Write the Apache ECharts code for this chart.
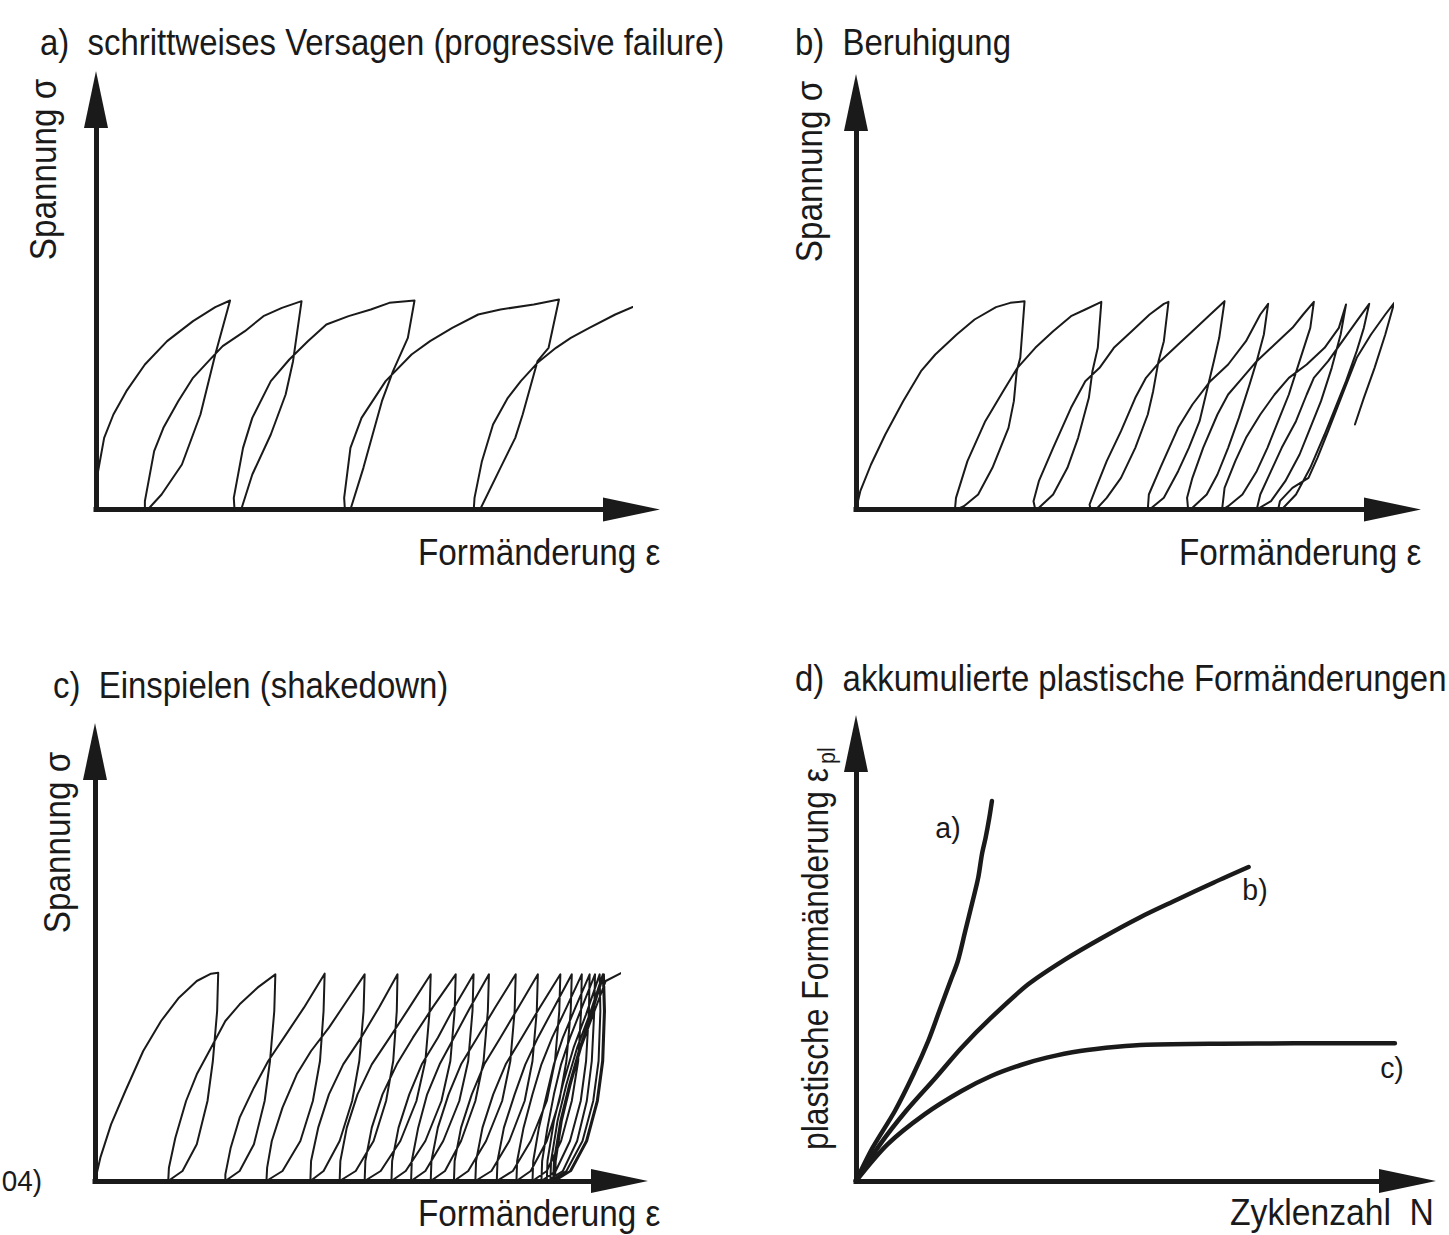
<!DOCTYPE html>
<html><head><meta charset="utf-8">
<script src="https://cdn.jsdelivr.net/npm/echarts@6/dist/echarts.min.js"></script>
<style>html,body{margin:0;padding:0;background:#fff}#c{width:1449px;height:1235px}</style>
</head><body><div id="c"></div>
<script>
// ---------- DATA (arbitrary units; [strain, stress]) ----------
const pathA = [[0,0],[4,105],[22,215],[47,285],[82,355],[132,435],[192,505],[262,565],[322,607],[362,627],
[322,465],[282,285],[232,135],[177,45],[140,0],
[132,0],[132,25],[157,175],[182,245],[222,325],[262,395],[312,455],[342,490],[402,535],[452,580],[502,605],[555,625],
[532,445],[512,345],[472,225],[422,105],[392,0],
[374,0],[372,35],[397,185],[422,275],[472,385],[522,450],[572,505],[622,555],[682,580],[742,600],[792,620],[860,627],
[842,515],[802,415],[772,325],[752,245],[722,125],[687,0],
[672,0],[670,35],[687,185],[717,275],[782,385],[852,465],[902,505],[962,545],[1032,585],[1092,600],[1182,615],[1250,630],
[1222,485],[1192,445],[1152,285],[1132,215],[1092,125],[1037,0],
[1020,0],[1022,35],[1042,145],[1072,255],[1112,335],[1147,385],[1192,440],[1242,485],[1282,515],[1332,545],[1402,585],[1482,623]];

const pathB = [[0,0],[12,55],[42,135],[82,225],[132,325],[182,415],[222,465],[282,525],[332,570],[392,607],[432,620],[472,625],
[460,455],[450,415],[442,325],[427,245],[382,125],[342,45],[302,10],[282,0],
[277,0],[280,35],[312,145],[362,265],[412,355],[452,425],[502,485],[552,535],[602,580],[642,600],[687,623],
[677,485],[662,415],[652,335],[622,215],[592,125],[552,45],[522,15],[507,0],
[502,0],[497,25],[512,85],[552,185],[602,305],[642,385],[682,425],[722,485],[772,535],[822,585],[862,617],[875,623],
[862,505],[847,445],[832,355],[817,285],[782,185],[742,95],[702,35],[672,0],
[657,0],[654,15],[672,65],[702,145],[742,235],[782,335],[812,395],[852,445],[902,495],[942,535],[992,585],[1032,625],
[1017,515],[1002,445],[982,355],[962,265],[932,185],[902,115],[862,35],[822,0],
[817,0],[820,45],[852,125],[902,245],[942,315],[992,385],[1042,435],[1092,505],[1132,585],[1154,617],
[1142,525],[1122,445],[1102,375],[1072,275],[1042,185],[1012,105],[982,45],[942,5],[932,0],
[930,0],[927,35],[942,95],[972,185],[1012,285],[1042,345],[1082,395],[1122,445],[1172,495],[1222,545],[1252,585],[1282,623],
[1272,545],[1242,445],[1212,345],[1182,265],[1152,185],[1122,115],[1082,45],[1042,10],[1027,0],
[1025,0],[1032,65],[1062,145],[1092,215],[1132,285],[1172,345],[1212,395],[1262,435],[1312,485],[1352,545],[1372,615],
[1357,525],[1332,425],[1302,325],[1272,245],[1242,165],[1202,85],[1162,25],[1122,0],
[1132,45],[1162,115],[1192,185],[1232,265],[1262,345],[1282,395],[1322,445],[1362,505],[1402,565],[1437,617],
[1422,545],[1402,475],[1372,385],[1342,305],[1312,225],[1272,125],[1232,45],[1192,0],
[1182,0],[1187,25],[1222,65],[1267,95],[1292,155],[1322,235],[1362,345],[1402,455],[1442,525],[1482,585],[1507,620],
[1482,525],[1452,425],[1422,335],[1397,255]];

const pathC = [[0,0],[15,70],[45,170],[85,270],[135,390],[185,480],[235,550],[285,600],[325,622],[345,625],
[342,510],[330,360],[315,240],[285,110],[245,30],[205,0],
[207,40],[225,130],[255,240],[285,320],[325,400],[365,480],[405,530],[455,580],[505,620],
[502,510],[490,360],[475,240],[445,110],[405,30],[365,0],
[365,20],[380,100],[405,190],[445,280],[485,360],[535,440],[585,520],[643,622],
[640,510],[630,360],[610,240],[575,120],[525,30],[480,0],
[482,40],[495,120],[525,220],[565,320],[605,390],[655,460],[705,540],[755,620],
[752,510],[740,360],[720,240],[685,120],[640,30],[603,0],
[605,60],[625,160],[655,260],[695,350],[745,430],[795,520],[847,620],
[845,510],[835,360],[815,240],[780,120],[730,30],[685,0],
[687,60],[705,160],[735,260],[775,350],[825,430],[880,520],[940,620],
[937,510],[925,360],[900,240],[855,120],[800,30],[755,0],
[757,60],[775,160],[805,260],[845,350],[890,430],[945,520],[1010,620],
[1007,510],[995,360],[970,240],[925,120],[870,30],[830,0],
[832,60],[850,160],[880,260],[915,350],[960,430],[1005,520],[1060,620],
[1057,510],[1045,360],[1020,240],[975,120],[925,30],[885,0],
[887,60],[905,160],[930,260],[965,350],[1005,430],[1050,520],[1103,620],
[1100,510],[1088,360],[1065,240],[1025,120],[980,30],[940,0],
[942,60],[960,160],[990,260],[1025,350],[1070,430],[1120,520],[1178,620],
[1175,510],[1163,360],[1140,240],[1095,120],[1045,30],[1005,0],
[1007,60],[1025,160],[1055,260],[1090,350],[1135,430],[1185,520],[1240,620],
[1237,510],[1225,360],[1203,240],[1160,120],[1110,30],[1065,0],
[1067,60],[1085,160],[1115,260],[1150,350],[1195,430],[1245,520],[1303,620],
[1300,510],[1288,360],[1265,240],[1220,120],[1170,30],[1125,0],
[1127,60],[1145,160],[1175,260],[1205,350],[1240,430],[1285,520],[1335,620],
[1332,510],[1320,360],[1300,240],[1265,120],[1220,30],[1180,0],
[1182,60],[1200,160],[1225,260],[1250,350],[1280,430],[1320,520],[1363,620],
[1361,510],[1353,360],[1335,240],[1305,120],[1265,30],[1225,0],
[1227,60],[1243,160],[1265,260],[1285,350],[1310,430],[1345,520],[1385,620],
[1383,510],[1375,360],[1360,240],[1330,120],[1290,30],[1250,0],
[1252,60],[1267,160],[1285,260],[1305,350],[1330,430],[1363,520],[1400,620],
[1398,510],[1391,360],[1377,240],[1350,120],[1310,30],[1265,0],
[1267,60],[1285,180],[1310,290],[1340,400],[1375,500],[1413,620],
[1415,510],[1410,360],[1395,240],[1365,120],[1320,30],[1275,0],
[1277,60],[1295,180],[1320,290],[1350,400],[1385,500],[1422,620],
[1425,510],[1420,360],[1405,240],[1375,120],[1330,30],[1283,0],
[1285,60],[1303,180],[1328,290],[1357,400],[1390,500],[1425,620],
[1428,510],[1423,360],[1408,240],[1378,120],[1333,30],[1288,0],
[1290,60],[1307,180],[1332,290],[1361,400],[1395,500],[1430,600],[1475,625]];

// panel d: accumulated plastic strain vs. number of cycles [N, eps_pl]
const curveDa = [[0,0],[45,100],[105,210],[155,320],[195,420],[225,510],[255,600],[275,660],[295,750],[315,840],[330,910],[340,980],[350,1030],[360,1090],[367,1140]];
const curveDb = [[0,0],[65,110],[135,210],[215,310],[285,400],[365,490],[465,590],[565,665],[665,730],[765,790],[865,843],[965,895],[1060,942]];
const curveDc = [[0,0],[85,110],[185,200],[285,270],[365,315],[445,348],[515,370],[605,390],[705,403],[785,409],[985,412],[1185,413],[1455,413]];

const panelTitles = ['a)  schrittweises Versagen (progressive failure)', 'b)  Beruhigung', 'c)  Einspielen (shakedown)', 'd)  akkumulierte plastische Formänderungen'];
const xNames = ['Formänderung ε', 'Formänderung ε', 'Formänderung ε', 'Zyklenzahl  N'];
const yNames = ['Spannung σ', 'Spannung σ', 'Spannung σ', 'plastische Formänderung ε'];
const yNameSub = 'pl';
const curveNames = ['a)', 'b)', 'c)'];
const sourceFragment = '04)';

// ---------- LAYOUT ----------
const INK = '#1a1a1a';
const FONT = '"Liberation Sans", Arial, Helvetica, sans-serif';
const AL = 57, AW = 24;
// origin (ox, oy), arrow tips, data units per pixel
const panels = [
  {ox: 96,  oy: 509.5, xTip: 660,  yTip: 71,  ux: 2.7, uy: 3},
  {ox: 856, oy: 509.5, xTip: 1421, yTip: 74,  ux: 2.8, uy: 3},
  {ox: 95,  oy: 1181,  xTip: 648,  yTip: 723, ux: 2.8, uy: 3},
  {ox: 856, oy: 1181,  xTip: 1436, yTip: 715, ux: 2.7, uy: 3}
];

const grids = [], xAxes = [], yAxes = [];
panels.forEach((p, i) => {
  const top = p.yTip + AL / 2, w = p.xTip - AL / 2 - p.ox, h = p.oy - top;
  grids.push({left: p.ox, top: top, width: w, height: h, containLabel: false});
  const axisLine = {show: true, onZero: false, symbol: ['none', 'triangle'], symbolSize: [AW, AL],
    lineStyle: {color: INK, width: 5, cap: 'square'}};
  xAxes.push({gridIndex: i, type: 'value', min: 0, max: w * p.ux, axisLine: axisLine,
    axisTick: {show: false}, axisLabel: {show: false}, splitLine: {show: false}});
  yAxes.push({gridIndex: i, type: 'value', min: 0, max: h * p.uy, axisLine: axisLine,
    axisTick: {show: false}, axisLabel: {show: false}, splitLine: {show: false}});
});

function lineSeries(data, i, width, smooth) {
  return {type: 'line', xAxisIndex: i, yAxisIndex: i, data: data, symbol: 'none', showSymbol: false,
    smooth: smooth || false, clip: false, silent: true,
    lineStyle: {color: INK, width: width, join: 'round', cap: 'round'}};
}
const series = [
  lineSeries(pathA, 0, 2),
  lineSeries(pathB, 1, 2),
  lineSeries(pathC, 2, 2),
  lineSeries(curveDa, 3, 4.5, 0.3),
  lineSeries(curveDb, 3, 4.5, 0.3),
  lineSeries(curveDc, 3, 4.5, 0.3)
];

function txt(text, x, y, o) {
  o = o || {};
  return {type: 'text', x: x, y: y, rotation: o.rot || 0, scaleX: o.sx || 0.89, silent: true, z: 10,
    style: {text: text, fontSize: o.fs || 37, fontFamily: FONT, fill: INK,
      align: o.align || 'left', verticalAlign: 'middle', textAlign: o.align || 'left', textVerticalAlign: 'middle'}};
}
const R = Math.PI / 2;
const graphics = [
  txt(panelTitles[0], 40, 42),
  txt(panelTitles[1], 795, 42),
  txt(panelTitles[2], 53, 685),
  txt(panelTitles[3], 795, 678),
  txt(xNames[0], 418, 552, {sx: 0.9}),
  txt(xNames[1], 1179, 552, {sx: 0.9}),
  txt(xNames[2], 418, 1213, {sx: 0.9}),
  txt(xNames[3], 1230, 1212, {sx: 0.91}),
  txt(yNames[0], 43, 169.5, {rot: R, align: 'center', sx: 0.9}),
  txt(yNames[1], 809, 171.5, {rot: R, align: 'center', sx: 0.9}),
  txt(yNames[2], 57, 842.5, {rot: R, align: 'center', sx: 0.9}),
  txt(yNames[3], 815, 1150, {rot: R, align: 'left', sx: 0.86}),
  txt(yNameSub, 827, 764, {rot: R, align: 'left', sx: 0.9, fs: 24}),
  txt(curveNames[0], 948, 828, {align: 'center', fs: 30, sx: 0.95}),
  txt(curveNames[1], 1255, 890, {align: 'center', fs: 30, sx: 0.95}),
  txt(curveNames[2], 1392, 1068, {align: 'center', fs: 30, sx: 0.95}),
  txt(sourceFragment, 42, 1181, {align: 'right', fs: 30, sx: 0.93})
];

const chart = echarts.init(document.getElementById('c'), null, {renderer: 'svg'});
chart.setOption({
  animation: false,
  backgroundColor: '#ffffff',
  grid: grids, xAxis: xAxes, yAxis: yAxes, series: series,
  graphic: {elements: graphics}
});
</script>
</body></html>
